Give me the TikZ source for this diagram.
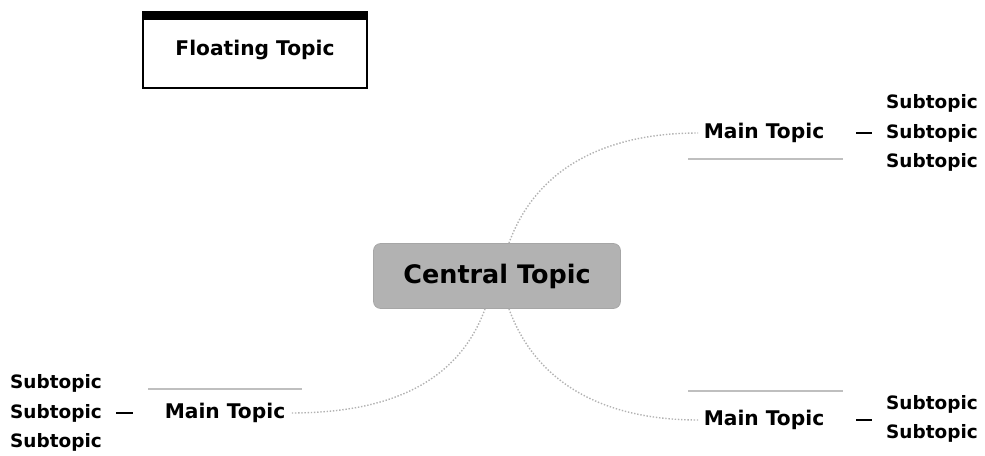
\documentclass[tikz,border=0pt]{standalone}
\usepackage{fontspec}
\setmainfont{DejaVu Sans}
\usetikzlibrary{positioning}

\begin{document}
\begin{tikzpicture}[x=0.02cm, y=-0.02cm, font=\bfseries,
		t/.style={font=\fontsize{11.5}{13}\bfseries, inner sep=3pt},
		st/.style={font=\fontsize{10.5}{12}\bfseries, inner sep=3pt},
		c/.style={draw=gray!70, fill=gray!60, rounded corners=4pt, minimum width=4.94cm, minimum height=1.3cm, font=\fontsize{14.5}{16}\bfseries},
		f/.style={draw, line width=1.1pt, minimum width=4.48cm, minimum height=1.52cm, font=\fontsize{11.5}{13}\bfseries},
		l/.style={gray!60, densely dotted, thick},
		u/.style={gray!50, thick},
		d/.style={thick, shorten <=15pt, shorten >=5pt}]
		\useasboundingbox (0,0) rectangle (985,456);

		\node[f] (F) at (255,50) {Floating Topic};
		\fill (F.north west) rectangle ([yshift=-5pt]F.north east);

		\node[c] (C) at (497,276) {Central Topic};

		\node[t] (M1) at (764,133) {Main Topic};
		\node[st] (S1b) at (932,133) {Subtopic};
		\node[st, above=0pt of S1b] (S1a) {Subtopic};
		\node[st, below=0pt of S1b] (S1c) {Subtopic};

		\node[t] (M2) at (225,413) {Main Topic};
		\node[st] (S2b) at (56,413) {Subtopic};
		\node[st, above=0pt of S2b] (S2a) {Subtopic};
		\node[st, below=0pt of S2b] (S2c) {Subtopic};

		\node[t] (M3) at (764,420) {Main Topic};
		\node[st] (S3a) at (932,404) {Subtopic};
		\node[st, below=0pt of S3a] (S3b) {Subtopic};

		\draw[u] (688,159) -- (843,159);
		\draw[u] (148,389) -- (302,389);
		\draw[u] (688,391) -- (843,391);

		\path[l] (C) edge[out=70, in=180] (M1);
		\path[l] (C) edge[out=250, in=0] (M2);
		\path[l] (C) edge[out=290, in=180] (M3);

		\path[d] (M1.east) edge (S1b.west);
		\path[d] (M2.west) edge (S2b.east);
		\path[d] (M3.east) edge (M3.east -| S3a.west);
	\end{tikzpicture}
\end{document}
